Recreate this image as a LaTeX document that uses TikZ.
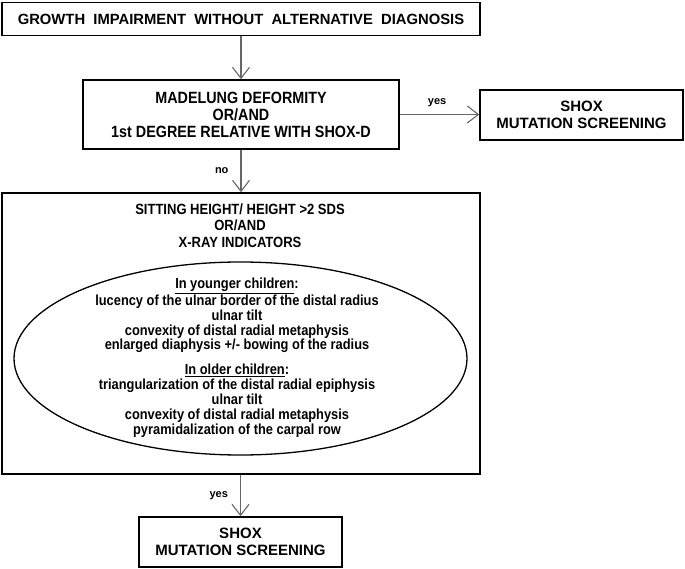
\documentclass[tikz,border=0pt]{standalone}
\usepackage{fontspec}
\setmainfont{Liberation Sans}
\newfontfamily\narrowfont[FakeStretch=0.88]{Liberation Sans}
\usetikzlibrary{arrows.meta,shapes.geometric}
\tikzset{
  box/.style={draw=black,line width=1.6pt,rectangle,inner sep=0pt,align=center},
  conn/.style={draw=black!60,line width=1.1pt,-{Straight Barb[length=11pt,width=17pt,line width=1.1pt]}},
  lbl/.style={font=\bfseries\fontsize{11}{12}\selectfont,inner sep=0pt},
  caps/.style={font=\narrowfont\bfseries\fontsize{16.3}{17}\selectfont},
  shoxfont/.style={font=\bfseries\fontsize{15}{17}\selectfont},
  small/.style={font=\narrowfont\bfseries\fontsize{14.6}{14.8}\selectfont,align=center,inner sep=0pt}
}
\begin{document}
\begin{tikzpicture}[x=1pt,y=-1pt]
\useasboundingbox (0,0) rectangle (685,569);
\node[box,minimum width=478pt,minimum height=33pt,font=\bfseries\fontsize{14.8}{17}\selectfont] (top) at (241,19) {GROWTH\ \ IMPAIRMENT\ \ WITHOUT\ \ ALTERNATIVE\ \ DIAGNOSIS};
\node[box,minimum width=316pt,minimum height=69pt,caps] (mad) at (241,114.5) {MADELUNG DEFORMITY\\OR/AND\\1st DEGREE RELATIVE WITH SHOX-D};
\node[box,minimum width=203pt,minimum height=50pt,shoxfont] (shox1) at (581.5,115) {SHOX\\MUTATION SCREENING};
\node[box,minimum width=478pt,minimum height=281pt] (big) at (241,333.5) {};
\node[align=center,inner sep=0pt,font=\narrowfont\bfseries\fontsize{14.8}{16.7}\selectfont] (bigtitle) at (240,225.5) {SITTING HEIGHT/ HEIGHT >2 SDS\\OR/AND\\X-RAY INDICATORS};
\node[draw=black,line width=1.3pt,ellipse,minimum width=453pt,minimum height=193pt,inner sep=0pt] (ell) at (240.5,358.5) {};
\node[small] (young) at (237,315.6) {\underline{In younger children}:\\lucency of the ulnar border of the distal radius\\ulnar tilt\\convexity of distal radial metaphysis\\enlarged diaphysis +/- bowing of the radius};
\node[small] (old) at (237,400.8) {\underline{In older children}:\\triangularization of the distal radial epiphysis\\ulnar tilt\\convexity of distal radial metaphysis\\pyramidalization of the carpal row};
\node[box,minimum width=203pt,minimum height=50pt,shoxfont] (shox2) at (240.5,542) {SHOX\\MUTATION SCREENING};
\draw[conn] (top.south -| mad.north) -- (mad.north);
\draw[conn] (mad.east) -- (mad.east -| shox1.west) node[lbl,pos=0.47,above=7pt] {yes};
\draw[conn] (mad.south) -- (mad.south |- big.north) node[lbl,midway,left=12pt] {no};
\draw[conn] (big.south -| shox2.north) -- (shox2.north) node[lbl,midway,left=12pt] {yes};
\end{tikzpicture}
\end{document}
